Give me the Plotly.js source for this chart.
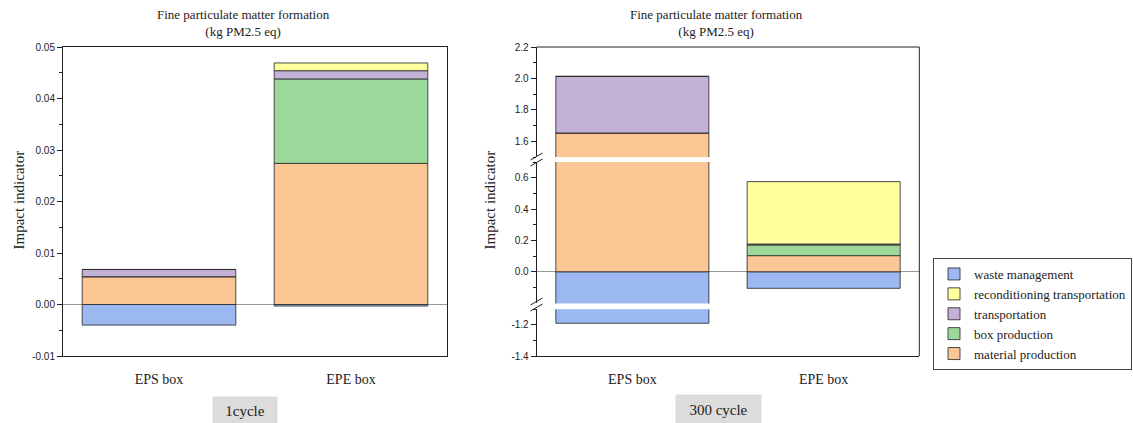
<!DOCTYPE html>
<html>
<head>
<meta charset="utf-8">
<script src="https://cdn.plot.ly/plotly-3.0.1.min.js"></script>
<style>
  html, body { margin: 0; padding: 0; background: #fff; }
  #chart { width: 1133px; height: 423px; }
</style>
</head>
<body>
<div id="chart"></div>
<script>
// Packaging boxes compared
const boxes = ['EPS box', 'EPE box'];

// Life-cycle stages, in stacking order (bottom to top, negative last)
const stages = ['material production', 'box production', 'transportation',
                'reconditioning transportation', 'waste management'];
const stageColors = ['#FAC795', '#9DD89B', '#C3B1D6', '#FFFF9E', '#9BB9F0'];

// Fine particulate matter formation (kg PM2.5 eq), one use cycle
const oneCycleMaterial   = [0.0054, 0.0274];
const oneCycleBox        = [0, 0.0164];
const oneCycleTransport  = [0.0014, 0.0016];
const oneCycleRecond     = [0, 0.0015];
const oneCycleWaste      = [-0.0040, -0.0003];

// Fine particulate matter formation (kg PM2.5 eq), 300 use cycles
const cycle300Material   = [1.653, 0.104];
const cycle300Box        = [0, 0.068];
const cycle300Transport  = [0.360, 0.006];
const cycle300Recond     = [0, 0.397];
const cycle300Waste      = [-1.19, -0.104];

// Axis ticks
const leftTicks   = [-0.01, 0.00, 0.01, 0.02, 0.03, 0.04, 0.05];
const leftMinor   = [-0.005, 0.005, 0.015, 0.025, 0.035, 0.045];
const upperTicks  = [1.6, 1.8, 2.0, 2.2];
const upperMinor  = [1.5, 1.7, 1.9, 2.1];
const middleTicks = [0.0, 0.2, 0.4, 0.6];
const middleMinor = [-0.1, 0.1, 0.3, 0.5, 0.7];
const lowerTicks  = [-1.4, -1.2];
const lowerMinor  = [-1.3, -1.1];

const oneCycle = [oneCycleMaterial, oneCycleBox, oneCycleTransport, oneCycleRecond, oneCycleWaste];
const cycle300 = [cycle300Material, cycle300Box, cycle300Transport, cycle300Recond, cycle300Waste];

const serif = 'Liberation Serif, Times New Roman, serif';
const sans = 'Liberation Sans, Arial, sans-serif';

// Figure geometry (pixels of the 1133x423 canvas)
const W = 1133, H = 423;
const px = v => v / W;
const py = v => 1 - v / H;

const leftX  = [px(63), px(447)];
const rightX = [px(536.7), px(919.3)];
const plotY  = [py(356), py(47)];
const upperY = [py(157), py(47)];
const middleY = [py(303.4), py(162)];
const lowerY = [py(356), py(309.2)];

const barLine = { color: 'rgba(45,45,45,0.85)', width: 1 };

const traces = [];
stages.forEach((name, i) => {
  traces.push({
    type: 'bar', name: name, x: boxes, y: oneCycle[i],
    xaxis: 'x', yaxis: 'y', width: 0.8,
    legendgroup: name, showlegend: true,
    marker: { color: stageColors[i], line: barLine },
    hoverinfo: 'x+y+name'
  });
  ['y2', 'y3', 'y4'].forEach(ya => {
    traces.push({
      type: 'bar', name: name, x: boxes, y: cycle300[i],
      xaxis: 'x2', yaxis: ya, width: 0.8,
      legendgroup: name, showlegend: false,
      marker: { color: stageColors[i], line: barLine },
      hoverinfo: 'x+y+name'
    });
  });
});

const tickFont = { family: sans, size: 10, color: '#222' };

function yAxis(domain, range, ticks, minor, digits, anchor) {
  return {
    domain: domain, range: range, anchor: anchor,
    tickmode: 'array', tickvals: ticks, ticktext: ticks.map(v => v.toFixed(digits)),
    ticks: 'outside', ticklen: 5, tickwidth: 1, tickcolor: '#222',
    minor: { tickmode: 'array', tickvals: minor, ticks: 'outside', ticklen: 3, tickwidth: 1, tickcolor: '#222', showgrid: false },
    tickfont: tickFont,
    showline: true, linecolor: '#222', linewidth: 1,
    showgrid: false,
    zeroline: true, zerolinecolor: '#9a9a9a', zerolinewidth: 1,
    fixedrange: true
  };
}

function xAxis(domain, anchor, mirror) {
  return {
    domain: domain, anchor: anchor, type: 'category', range: [-0.5, 1.5],
    showline: true, linecolor: '#222', linewidth: 1, mirror: mirror,
    ticks: '', ticklabelstandoff: 10,
    tickfont: { family: serif, size: 14, color: '#222' },
    showgrid: false, zeroline: false, fixedrange: true
  };
}

const leftY = yAxis(plotY, [-0.01, 0.05], leftTicks, leftMinor, 2, 'x');
leftY.mirror = true;

const titleText = 'Fine particulate matter formation<br>(kg PM2.5 eq)';

const shapes = [
  // top and right edges of the broken-axis frame
  { type: 'line', xref: 'paper', yref: 'paper', x0: rightX[0], x1: rightX[1], y0: upperY[1], y1: upperY[1],
    line: { color: '#222', width: 1 } },
  { type: 'line', xref: 'paper', yref: 'paper', x0: rightX[1], x1: rightX[1], y0: plotY[0], y1: plotY[1],
    line: { color: '#222', width: 1 } }
];
// axis break marks
[[160, 153], [166, 159], [305, 298], [311, 304]].forEach(([ya, yb]) => {
  shapes.push({ type: 'line', xref: 'paper', yref: 'paper',
    x0: px(530.5), x1: px(542.5), y0: py(ya), y1: py(yb),
    line: { color: '#222', width: 1 } });
});

const annotations = [
  { text: titleText, xref: 'paper', yref: 'paper', x: px(243), y: py(23), xanchor: 'center', yanchor: 'middle',
    showarrow: false, font: { family: serif, size: 13, color: '#222' } },
  { text: titleText, xref: 'paper', yref: 'paper', x: px(716), y: py(23), xanchor: 'center', yanchor: 'middle',
    showarrow: false, font: { family: serif, size: 13, color: '#222' } },
  { text: 'Impact indicator', xref: 'paper', yref: 'paper', x: px(18), y: py(200.5), textangle: -90,
    xanchor: 'center', yanchor: 'middle', showarrow: false, font: { family: serif, size: 15, color: '#222' } },
  { text: 'Impact indicator', xref: 'paper', yref: 'paper', x: px(489), y: py(200.5), textangle: -90,
    xanchor: 'center', yanchor: 'middle', showarrow: false, font: { family: serif, size: 15, color: '#222' } },
  { text: '1cycle', xref: 'paper', yref: 'paper', x: px(245), y: py(411), xanchor: 'center', yanchor: 'middle',
    showarrow: false, width: 62, height: 26, bgcolor: '#dcdcdc',
    font: { family: serif, size: 15, color: '#222' } },
  { text: '300 cycle', xref: 'paper', yref: 'paper', x: px(718), y: py(410), xanchor: 'center', yanchor: 'middle',
    showarrow: false, width: 83, height: 28, bgcolor: '#dcdcdc',
    font: { family: serif, size: 15, color: '#222' } }
];

const layout = {
  width: W, height: H,
  margin: { l: 0, r: 0, t: 0, b: 0 },
  paper_bgcolor: '#fff', plot_bgcolor: 'rgba(0,0,0,0)',
  barmode: 'relative',
  showlegend: true,
  legend: {
    x: px(933), y: py(258), xanchor: 'left', yanchor: 'top',
    traceorder: 'reversed', bordercolor: '#444', borderwidth: 1, bgcolor: '#fff',
    font: { family: serif, size: 13, color: '#222' }, tracegroupgap: 0,
    itemwidth: 30
  },
  xaxis: xAxis(leftX, 'y', true),
  yaxis: leftY,
  xaxis2: xAxis(rightX, 'y4', false),
  yaxis2: yAxis(upperY, [1.5, 2.2], upperTicks, upperMinor, 1, 'x2'),
  yaxis3: yAxis(middleY, [-0.2, 0.7], middleTicks, middleMinor, 1, 'x2'),
  yaxis4: yAxis(lowerY, [-1.4, -1.1], lowerTicks, lowerMinor, 1, 'x2'),
  shapes: shapes,
  annotations: annotations
};

Plotly.newPlot('chart', traces, layout, { displayModeBar: false, staticPlot: true });
</script>
</body>
</html>
